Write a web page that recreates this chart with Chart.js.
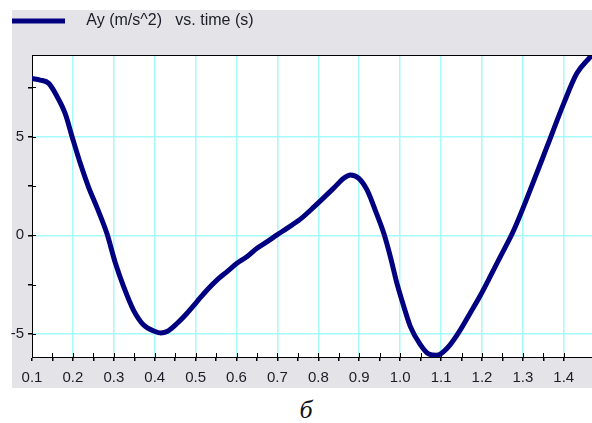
<!DOCTYPE html>
<html>
<head>
<meta charset="utf-8">
<script src="https://cdn.jsdelivr.net/npm/chart.js@4"></script>
<style>
   html, body { margin: 0; padding: 0; background: #fff; }
   .wrap { position: absolute; left: 0; top: 0; width: 592px; height: 392px; }
   .caption {
      position: absolute; left: 0; top: 397px; width: 612px;
      text-align: center; font: italic 26px/26px "Liberation Serif", serif; color: #111;
   }
</style>
</head>
<body>
<div class="wrap"><canvas id="myChart"></canvas></div>
<div class="caption">б</div>
<script>
// ==========================================
// Data
// ==========================================

const times = [0.100, 0.120, 0.141, 0.157, 0.181, 0.198, 0.218, 0.238, 0.260, 0.283,
   0.304, 0.324, 0.348, 0.373, 0.401, 0.415, 0.430, 0.455, 0.479, 0.503, 0.528,
   0.552, 0.577, 0.601, 0.626, 0.650, 0.675, 0.699, 0.723, 0.756, 0.790,
   0.837, 0.862, 0.878, 0.899, 0.919, 0.939, 0.960, 0.976, 0.992, 1.009,
   1.025, 1.047, 1.070, 1.090, 1.118, 1.147, 1.171, 1.196, 1.220, 1.245,
   1.278, 1.318, 1.359, 1.400, 1.432, 1.465];

const ay = [7.95, 7.87, 7.70, 7.20, 6.18, 5.00, 3.65, 2.46, 1.35, 0.10,
   -1.42, -2.60, -3.79, -4.55, -4.88, -4.95, -4.88, -4.46, -3.95, -3.37, -2.77,
   -2.27, -1.84, -1.42, -1.08, -0.66, -0.32, 0.02, 0.35, 0.82, 1.45,
   2.38, 2.89, 3.06, 2.89, 2.30, 1.28, 0.10, -1.08, -2.43, -3.62,
   -4.63, -5.47, -6.02, -6.08, -5.65, -4.80, -3.95, -3.05, -2.10, -1.08,
   0.27, 2.30, 4.49, 6.69, 8.21, 9.05];

const legendText = "   Ay (m/s^2)   vs. time (s)";
const xRange = [0.1, 1.469];
const yRange = [-6.17, 9.14];
const xLabelStep = 0.1, xTickStep = 0.05;
const yLabelStep = 5, yTickStep = 2.5;

const lineColor = "#000080";
const gridColor = "#a6fafa";
const textColor = "#1c1c28";

// ==========================================
// Helpers
// ==========================================

function onStep(value, step) {
   return Math.abs(value / step - Math.round(value / step)) < 1e-6;
}

function keepSteps(step) {
   return (scale) => { scale.ticks = scale.ticks.filter((t) => onStep(t.value, step)); };
}

// grey panel, white plot, top border and the inner half of the tick marks
const frame = {
   id: "frame",
   beforeInit(chart) {
      const fit = chart.legend.fit;
      chart.legend.fit = function () { fit.call(this); this.height += 16; };
   },
   beforeDraw(chart) {
      const { ctx, chartArea: a } = chart;
      ctx.save();
      ctx.fillStyle = "#e4e4e8";
      ctx.fillRect(12, 10, 580, 378);
      ctx.fillStyle = "#fff";
      ctx.fillRect(a.left, a.top, a.right - a.left, a.bottom - a.top);
      ctx.restore();
   },
   afterDraw(chart) {
      const { ctx, chartArea: a, scales } = chart;
      ctx.save();
      ctx.strokeStyle = "#000";
      ctx.lineWidth = 1;
      ctx.beginPath();
      ctx.moveTo(a.left, a.top + 0.5);
      ctx.lineTo(a.right, a.top + 0.5);
      scales.x.ticks.forEach((t) => {
         const px = Math.round(scales.x.getPixelForValue(t.value)) + 0.5;
         ctx.moveTo(px, a.bottom);
         ctx.lineTo(px, a.bottom - 4);
      });
      scales.y.ticks.forEach((t) => {
         const py = Math.round(scales.y.getPixelForValue(t.value)) + 0.5;
         ctx.moveTo(a.left, py);
         ctx.lineTo(a.left + 4, py);
      });
      ctx.stroke();
      ctx.restore();
   }
};

// ==========================================
// Chart
// ==========================================

const ctx = document.getElementById("myChart");

let chart = new Chart(ctx, {
   type: "line",
   data: {
      datasets: [{
         label: legendText,
         data: times.map((t, i) => ({ x: t, y: ay[i] })),
         borderColor: lineColor,
         backgroundColor: lineColor,
         borderWidth: 5,
         pointRadius: 0,
         cubicInterpolationMode: "monotone",
         borderJoinStyle: "round",
         borderCapStyle: "round"
      }]
   },
   options: {
      responsive: true,
      maintainAspectRatio: false,
      animation: false,
      layout: { padding: { left: 2, top: 3, right: 0, bottom: 5 } },
      plugins: {
         tooltip: { enabled: false },
         legend: {
            position: "top",
            align: "start",
            labels: {
               boxWidth: 53,
               boxHeight: 5,
               padding: 10,
               color: textColor,
               font: { family: "Arial, 'Liberation Sans', sans-serif", size: 16 },
               generateLabels: () => [{
                  text: legendText, fillStyle: lineColor, strokeStyle: lineColor,
                  lineWidth: 0, datasetIndex: 0, fontColor: textColor
               }]
            }
         }
      },
      scales: {
         x: {
            type: "linear",
            min: xRange[0],
            max: xRange[1],
            afterBuildTicks: keepSteps(xTickStep),
            afterFit: (scale) => { scale.height = 30; },
            ticks: {
               stepSize: xTickStep,
               autoSkip: false,
               maxRotation: 0,
               padding: 8,
               color: textColor,
               font: { family: "Arial, 'Liberation Sans', sans-serif", size: 15 },
               callback: (v) => onStep(v, xLabelStep) ? v.toFixed(1) : ""
            },
            grid: {
               color: (c) => (c.tick && onStep(c.tick.value, xLabelStep) && c.tick.value > xRange[0] + 1e-6) ? gridColor : "rgba(0,0,0,0)",
               tickColor: "#000",
               tickLength: 4,
               lineWidth: 1.5
            },
            border: { color: "#000", width: 1 }
         },
         y: {
            min: yRange[0],
            max: yRange[1],
            afterBuildTicks: keepSteps(yTickStep),
            afterFit: (scale) => { scale.width = 30; },
            ticks: {
               stepSize: yTickStep,
               autoSkip: false,
               padding: 4,
               color: textColor,
               font: { family: "Arial, 'Liberation Sans', sans-serif", size: 15 },
               callback: (v) => onStep(v, yLabelStep) ? String(v) : ""
            },
            grid: {
               color: (c) => (c.tick && onStep(c.tick.value, yLabelStep)) ? gridColor : "rgba(0,0,0,0)",
               tickColor: "#000",
               tickLength: 4,
               lineWidth: 1.5
            },
            border: { color: "#000", width: 1 }
         }
      }
   },
   plugins: [frame]
});
</script>
</body>
</html>
